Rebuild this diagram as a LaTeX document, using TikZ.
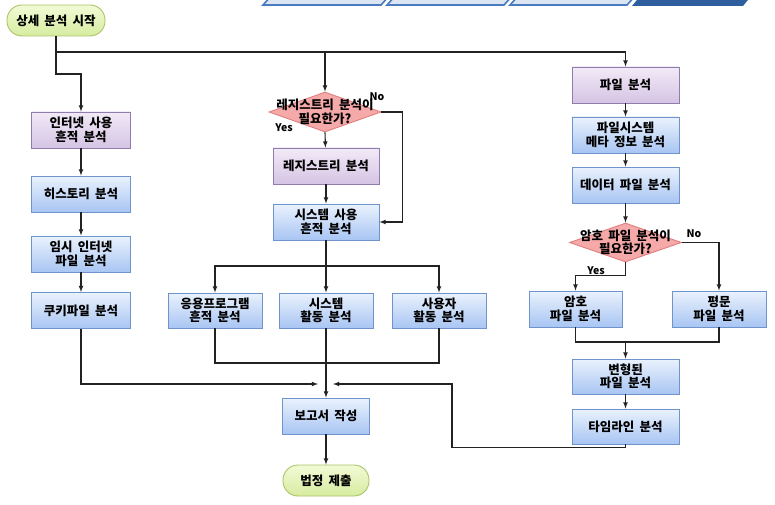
\documentclass[tikz,border=0pt]{standalone}
\usepackage{fontspec}
\setmainfont{Noto Sans CJK KR}[WordSpace=1.8]
\usepackage{xcolor}
\usepackage{tikz}
\usetikzlibrary{arrows,shapes}

\definecolor{purpletop}{HTML}{F2EAF7}
\definecolor{purplebot}{HTML}{D5C4E4}
\definecolor{purpleline}{HTML}{8F7DAE}
\definecolor{bluetop}{HTML}{EAF2FD}
\definecolor{bluebot}{HTML}{A8C5F3}
\definecolor{blueline}{HTML}{6F93CB}
\definecolor{greentop}{HTML}{F3FAD6}
\definecolor{greenbot}{HTML}{D6ECA0}
\definecolor{greenline}{HTML}{A9C466}
\definecolor{redfill}{HTML}{F5A9A9}
\definecolor{redline}{HTML}{E07F7F}
\definecolor{lightbar}{HTML}{DCE6F2}
\definecolor{darkbar}{HTML}{2F5E9E}
\definecolor{barline}{HTML}{4A7BBF}
\definecolor{wire}{HTML}{222222}

\begin{document}
\begin{tikzpicture}[x=1pt,y=-1pt,>=latex,
        every node/.style={font=\fontsize{12.5}{13.5}\selectfont\bfseries, align=center, text=black},
        box/.style={rectangle, line width=0.9pt, minimum width=106pt, minimum height=36pt, inner sep=1pt},
        purplebox/.style={box, draw=purpleline, top color=purpletop, bottom color=purplebot},
        bluebox/.style={box, draw=blueline, top color=bluetop, bottom color=bluebot},
        terminal/.style={rectangle, rounded corners=15pt, line width=0.9pt, draw=greenline,
            top color=greentop, bottom color=greenbot, minimum height=31pt},
        decision/.style={diamond, draw=redline, fill=redfill, line width=0.9pt,
            minimum width=112pt, minimum height=40pt, inner sep=0pt},
        yesno/.style={font=\fontsize{10.5}{12}\selectfont\bfseries},
        wire/.style={draw=wire, line width=1.1pt}]
        \useasboundingbox (0,0) rectangle (775,505);

        % bars at the top
        \foreach \xa/\xb in {263/381, 387/504, 510/627}
            \filldraw[fill=lightbar, draw=barline, line width=1.6pt]
                (\xa,5) -- (\xb,5) -- (\xb+9,-5) -- (\xa+9,-5) -- cycle;
        \fill[darkbar] (632,6) -- (743,6) -- (752,-5) -- (641,-5) -- cycle;

        % left column
        \node[terminal, minimum width=98pt] (start) at (56,20.5) {상세 분석 시작};
        \node[purplebox, minimum width=99pt] (inet) at (81,130) {인터넷 사용\\흔적 분석};
        \node[bluebox, minimum width=99pt] (hist) at (81,194) {히스토리 분석};
        \node[bluebox, minimum width=99pt] (temp) at (81,254) {임시 인터넷\\파일 분석};
        \node[bluebox, minimum width=99pt] (cookie) at (81,310.5) {쿠키파일 분석};

        % middle column
        \node[decision, label={[align=center]center:{레지스트리 분석이\\필요한가?}}] (regq) at (325,112) {};
        \node[yesno] (regno) at (377,97) {No};
        \node[yesno] (regyes) at (284,128) {Yes};
        \node[purplebox] (reg) at (326,166) {레지스트리 분석};
        \node[bluebox] (sysuse) at (326,222) {시스템 사용\\흔적 분석};
        \node[bluebox, minimum width=94pt, minimum height=35pt] (app) at (215,310.5) {응용프로그램\\흔적 분석};
        \node[bluebox, minimum width=94pt, minimum height=35pt] (sysact) at (326,310.5) {시스템\\활동 분석};
        \node[bluebox, minimum width=94pt, minimum height=35pt] (user) at (439,310.5) {사용자\\활동 분석};
        \node[bluebox, minimum width=87pt] (report) at (326,416) {보고서 작성};
        \node[terminal, minimum width=86pt] (court) at (326,480.5) {법정 제출};

        % right column
        \node[purplebox, minimum width=107pt] (file) at (625.5,85) {파일 분석};
        \node[bluebox, minimum width=107pt] (fsmeta) at (625.5,135) {파일시스템\\메타 정보 분석};
        \node[bluebox, minimum width=107pt] (data) at (625.5,185) {데이터 파일 분석};
        \node[decision, minimum height=39pt, label={[align=center]center:{암호 파일 분석이\\필요한가?}}] (encq) at (625.5,242.5) {};
        \node[yesno] (encno) at (694,234) {No};
        \node[yesno] (encyes) at (596,271) {Yes};
        \node[bluebox, minimum width=93pt] (enc) at (575.5,309) {암호\\파일 분석};
        \node[bluebox, minimum width=94pt] (plain) at (719,309) {평문\\파일 분석};
        \node[bluebox, minimum width=107pt, minimum height=35pt] (trans) at (625.5,376.5) {변형된\\파일 분석};
        \node[bluebox, minimum width=107pt, minimum height=35pt] (timeline) at (625.5,426.5) {타임라인 분석};

        \coordinate (split) at (56,52);
        \coordinate (fork) at (326,266);
        \coordinate (join) at (326,363);
        \coordinate (inl) at (318,384);
        \coordinate (inr) at (333,384);
        \coordinate (join2) at (625.5,342);

        \draw[wire] (start) -- (split);
        \draw[wire,->] (split) -- ++(0,22) -| (inet);
        \draw[wire,->] (split) -| (regq.north);
        \draw[wire,->] (split) -| (file);
        \draw[wire,->] (inet) -- (hist);
        \draw[wire,->] (hist) -- (temp);
        \draw[wire,->] (temp) -- (cookie);
        \draw[wire,->] (cookie) |- (inl);

        \draw[wire,->] (regq.south) -- (reg);
        \draw[wire,->] (regq.east) -- ++(21,0) |- (sysuse.east);
        \draw[wire,->] (reg) -- (sysuse);
        \draw[wire] (sysuse) -- (fork);
        \draw[wire,->] (fork) -| (app);
        \draw[wire,->] (fork) -- (sysact);
        \draw[wire,->] (fork) -| (user);
        \draw[wire] (app) |- (join);
        \draw[wire] (user) |- (join);
        \draw[wire] (sysact) -- (join);
        \draw[wire,->] (join) -- (report);
        \draw[wire,->] (report) -- (court);

        \draw[wire,->] (file) -- (fsmeta);
        \draw[wire,->] (fsmeta) -- (data);
        \draw[wire,->] (data) -- (encq.north);
        \draw[wire,->] (encq.south) -- ++(0,13) -| (enc);
        \draw[wire,->] (encq.east) -| (plain);
        \draw[wire] (enc) |- (join2);
        \draw[wire] (plain) |- (join2);
        \draw[wire,->] (join2) -- (trans);
        \draw[wire,->] (trans) -- (timeline);
        \draw[wire,->] (timeline) -- ++(0,21) -| (452,384) -- (inr);
    \end{tikzpicture}
\end{document}
